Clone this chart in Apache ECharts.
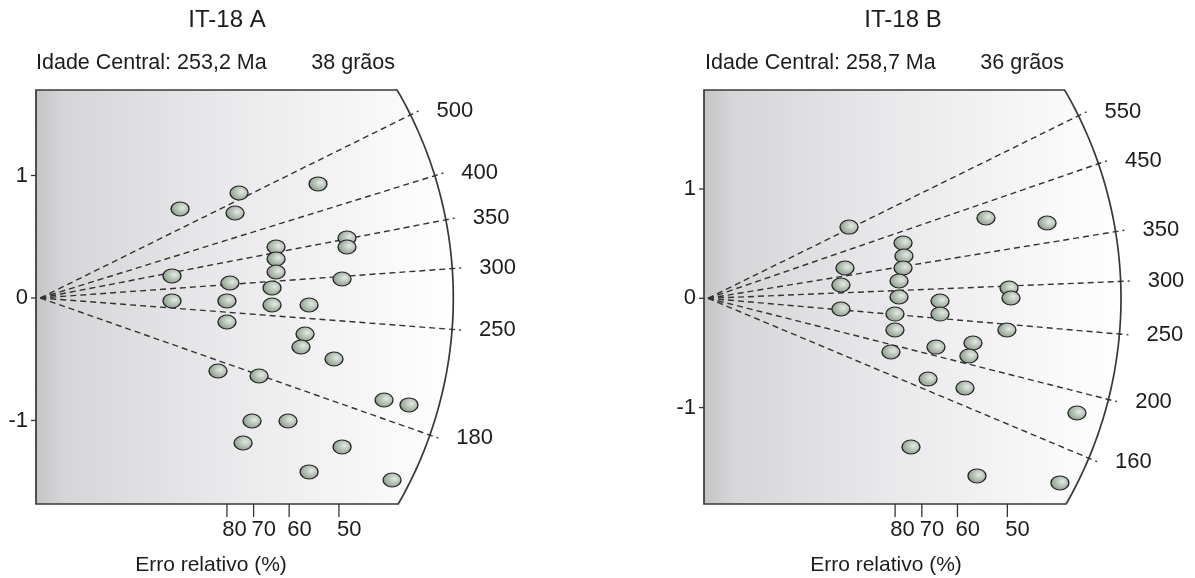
<!DOCTYPE html>
<html>
<head>
<meta charset="utf-8">
<script src="https://cdn.jsdelivr.net/npm/echarts@6/dist/echarts.min.js"></script>
<style>
html,body{margin:0;padding:0;background:#fff}
#main{width:1195px;height:578px}
</style>
</head>
<body>
<div id="main"></div>
<script>
// IT-18 A : precisao (1/erro relativo) e estimativa padronizada
var precA = [0.936,1.331,1.304,1.860,2.054,2.054,1.579,1.579,1.579,1.552,0.882,1.270,2.021,0.882,1.250,1.552,1.800,1.250,1.773,1.746,1.967,1.190,1.465,2.302,2.469,1.418,1.659,1.358,2.021,1.800,2.356];
var zA    = [0.727,0.857,0.694,0.931,0.490,0.416,0.416,0.318,0.212,0.082,0.180,0.122,0.155,-0.024,-0.024,-0.057,-0.057,-0.196,-0.294,-0.400,-0.498,-0.596,-0.637,-0.833,-0.873,-1.004,-1.004,-1.184,-1.216,-1.420,-1.486];
var agesA   = [500, 400, 350, 300, 250, 180];
var slopesA = [0.603, 0.378, 0.235, 0.087, -0.093, -0.429];

// IT-18 B
var precB = [0.942,1.857,2.265,1.303,1.309,1.303,1.276,1.276,1.249,1.249,1.222,0.915,0.888,0.888,1.550,1.550,2.011,2.024,1.997,1.523,1.770,1.743,1.470,1.717,2.465,1.356,1.797,2.351];
var zB    = [0.652,0.735,0.689,0.506,0.387,0.277,0.158,0.012,-0.144,-0.290,-0.491,0.277,0.122,-0.098,-0.025,-0.144,0.094,0.003,-0.290,-0.446,-0.409,-0.528,-0.738,-0.821,-1.049,-1.360,-1.625,-1.689];
var agesB   = [550, 450, 350, 300, 250, 200, 160];
var slopesB = [0.675, 0.472, 0.224, 0.056, -0.119, -0.346, -0.575];

var errTicks = [80, 70, 60, 50];   // erro relativo (%)
var zTicks = [-1, 0, 1];

var dom = document.getElementById("main");
var myChart = echarts.init(dom);

var FONT = "'Liberation Sans', Arial, sans-serif";
var TXT = '#1c1c1c';
var ARC_R = 413;      // raio do arco (px)
var RAY_LEN = 422;    // comprimento das linhas de idade (px)
var LABEL_SIZE = 22;

// moldura (retangulo com lado direito em arco) + marcas dos eixos
function renderFrame(params, api) {
    var cs = params.coordSys;
    var o = api.coord([0, 0]);
    var left = cs.x, top = cs.y, bottom = cs.y + cs.height;
    var aTop = Math.asin((o[1] - top) / ARC_R);
    var aBot = -Math.asin((bottom - o[1]) / ARC_R);
    var pts = [[left, top]];
    var n = 80;
    for (var i = 0; i <= n; i++) {
        var a = aTop + (aBot - aTop) * i / n;
        pts.push([o[0] + ARC_R * Math.cos(a), o[1] - ARC_R * Math.sin(a)]);
    }
    pts.push([left, bottom]);
    var children = [{
        type: 'polygon',
        shape: { points: pts },
        style: {
            fill: new echarts.graphic.LinearGradient(0, 0, 1, 0, [
                { offset: 0, color: '#c4c4c6' },
                { offset: 0.07, color: '#d6d6d8' },
                { offset: 0.45, color: '#e9e9eb' },
                { offset: 1, color: '#ffffff' }
            ]),
            stroke: '#383838',
            lineWidth: 1.7
        }
    }];
    var tickStyle = { stroke: '#333', lineWidth: 1.3 };
    // eixo y
    zTicks.forEach(function (v) {
        var y = api.coord([0, v])[1];
        children.push({ type: 'line', shape: { x1: left - 5, y1: y, x2: left, y2: y }, style: tickStyle });
    });
    // eixo de erro relativo
    var xs = errTicks.map(function (p) { return api.coord([100 / p, 0])[0]; });
    var lefts = xs.map(function (x) { return x - 2; });
    var w = errTicks.map(function (p) { return String(p).length * 0.556 * LABEL_SIZE; });
    for (var k = lefts.length - 2; k >= 0; k--) {
        if (lefts[k] + w[k] + 5 > lefts[k + 1]) lefts[k] = lefts[k + 1] - w[k] - 5;
    }
    errTicks.forEach(function (p, j) {
        children.push({ type: 'line', shape: { x1: xs[j], y1: bottom, x2: xs[j], y2: bottom + 13 }, style: tickStyle });
        children.push({
            type: 'text', x: lefts[j], y: bottom + 26,
            style: { text: String(p), fontSize: LABEL_SIZE, fontFamily: FONT, fill: TXT, align: 'left', verticalAlign: 'middle' }
        });
    });
    return { type: 'group', children: children };
}

// linhas de idade a partir da origem
function renderRay(params, api) {
    var o = api.coord([0, 0]);
    var p = api.coord([1, api.value(1)]);
    var dx = p[0] - o[0], dy = p[1] - o[1];
    var len = Math.sqrt(dx * dx + dy * dy);
    var ex = o[0] + dx / len * RAY_LEN, ey = o[1] + dy / len * RAY_LEN;
    return {
        type: 'group',
        children: [{
            type: 'line',
            shape: { x1: o[0], y1: o[1], x2: ex, y2: ey },
            style: { stroke: '#333', lineWidth: 1.4, lineDash: [6, 4] }
        }, {
            type: 'text',
            x: ex + 18, y: ey,
            style: {
                text: String(api.value(0)),
                fontSize: LABEL_SIZE, fontFamily: FONT, fill: TXT,
                align: 'left', verticalAlign: 'middle'
            }
        }]
    };
}

var markerColor = new echarts.graphic.RadialGradient(0.62, 0.42, 0.72, [
    { offset: 0, color: '#e4eae4' },
    { offset: 1, color: '#7a8d7a' }
]);

function xAxisOf(gi, min, max) {
    return {
        type: 'value', gridIndex: gi, min: min, max: max,
        axisLine: { show: false },
        splitLine: { show: false },
        axisTick: { show: false },
        axisLabel: { show: false }
    };
}
function yAxisOf(gi, min, max) {
    return {
        type: 'value', gridIndex: gi, min: min, max: max,
        axisLine: { show: false },
        splitLine: { show: false },
        axisTick: { show: false },
        axisLabel: {
            show: true, margin: 8, customValues: zTicks,
            fontSize: LABEL_SIZE, fontFamily: FONT, color: TXT
        }
    };
}

function panelSeries(gi, prec, z, ages, slopes) {
    return [{
        type: 'custom', xAxisIndex: gi, yAxisIndex: gi, z: 1,
        renderItem: renderFrame, data: [[0, 0]], silent: true, clip: false
    }, {
        type: 'custom', xAxisIndex: gi, yAxisIndex: gi, z: 2,
        renderItem: renderRay, silent: true, clip: false,
        data: ages.map(function (a, i) { return [a, slopes[i]]; })
    }, {
        type: 'scatter', xAxisIndex: gi, yAxisIndex: gi, z: 3,
        clip: false,
        symbol: 'circle', symbolSize: [18, 14],
        itemStyle: { color: markerColor, borderColor: '#262626', borderWidth: 1.2, opacity: 1 },
        data: prec.map(function (x, i) { return [x, z[i]]; })
    }];
}

function txt(x, y, s, size, align) {
    return {
        type: 'text', x: x, y: y,
        style: { text: s, fontSize: size, fontFamily: FONT, fill: TXT, align: align, verticalAlign: 'middle' }
    };
}

option = {
    backgroundColor: '#fff',
    animation: false,
    grid: [
        { left: 36, top: 90, width: 430, height: 414 },
        { left: 704, top: 90, width: 430, height: 414 }
    ],
    xAxis: [ xAxisOf(0, -0.0288, 2.851), xAxisOf(1, -0.0267, 2.846) ],
    yAxis: [ yAxisOf(0, -1.682, 1.698), yAxisOf(1, -1.882, 1.906) ],
    series: panelSeries(0, precA, zA, agesA, slopesA).concat(panelSeries(1, precB, zB, agesB, slopesB)),
    graphic: [
        txt(227, 20, 'IT-18 A', 24, 'center'),
        txt(36, 63, 'Idade Central: 253,2 Ma', 21.5, 'left'),
        txt(395, 63, '38 grãos', 21.5, 'right'),
        txt(211, 565, 'Erro relativo (%)', 21, 'center'),
        txt(903, 20, 'IT-18 B', 24, 'center'),
        txt(705, 63, 'Idade Central: 258,7 Ma', 21.5, 'left'),
        txt(1064, 63, '36 grãos', 21.5, 'right'),
        txt(886, 565, 'Erro relativo (%)', 21, 'center')
    ]
};
myChart.setOption(option);
</script>
</body>
</html>
